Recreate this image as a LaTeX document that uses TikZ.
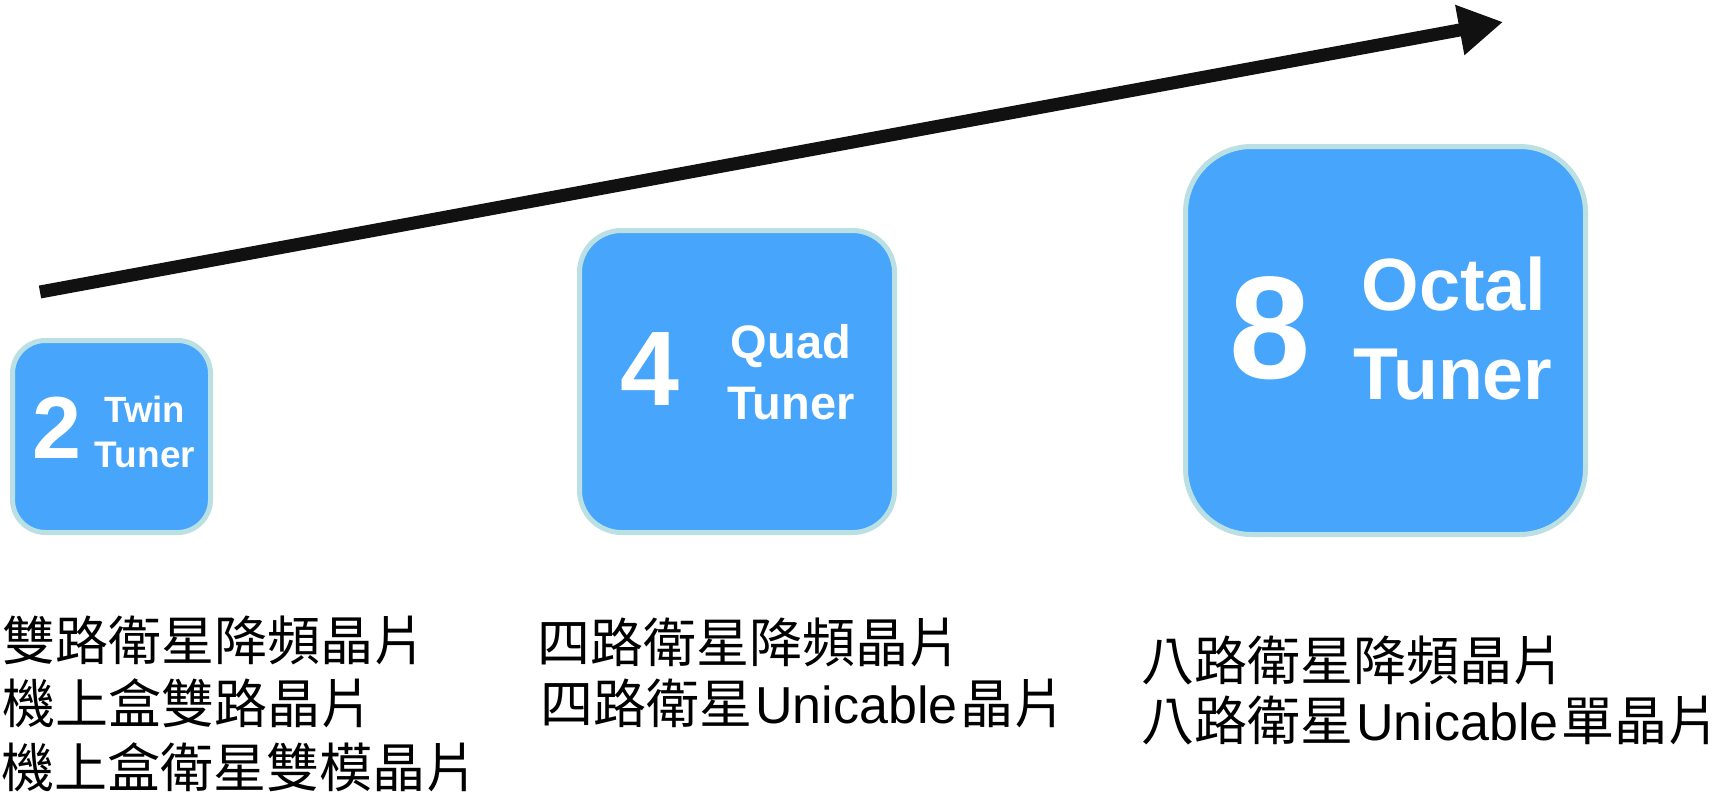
\documentclass[tikz,border=0pt]{standalone}
\usepackage{fontspec}
\setmainfont{Liberation Sans}
\newfontfamily\cjk{Noto Sans CJK TC}
\newfontfamily\arialf{Liberation Sans}
\usetikzlibrary{arrows.meta}
\definecolor{boxfill}{HTML}{47A5FB}
\definecolor{boxedge}{HTML}{BBE0E4}
\definecolor{arrowcol}{HTML}{111111}
\newcommand{\fs}[1]{\fontsize{#1}{#1}\selectfont}
\newcommand{\uni}{\hspace{3pt}{\arialf\fs{52}Unicable}\hspace{3pt}}
\begin{document}
\begin{tikzpicture}[x=1pt,y=-1pt,
  tuner/.style={draw=boxedge, fill=boxfill, line width=5pt, inner sep=0pt, rectangle},
  wt/.style={text=white, inner sep=0pt, anchor=base, text depth=0pt},
  cn/.style={inner sep=0pt, anchor=base west, font=\cjk\fs{53}}]
\useasboundingbox (0,0) rectangle (1729,793);
% growth arrow
\coordinate (as) at (40,292);
\coordinate (ae) at (1503,22);
\draw[arrowcol, line width=13pt, -{Triangle[length=44pt,width=48pt]}] (as) -- (ae);
% boxes
\node[tuner, rounded corners=33pt, minimum width=198pt, minimum height=192pt] (b2) at (111.5,436.5) {};
\node[tuner, rounded corners=42pt, minimum width=315pt, minimum height=302pt] (b4) at (737,381.5) {};
\node[tuner, rounded corners=66pt, minimum width=400pt, minimum height=388pt] (b8) at (1385.5,340.5) {};
% box texts
\node[wt, font=\bfseries\fs{88}] (n2) at (56.5,458) {2};
\node[wt, font=\bfseries\fs{36.5}] (t2a) at (145,422) {Twin};
\node[wt, font=\bfseries\fs{37}] (t2b) at (145,467) {Tuner};
\node[wt, font=\bfseries\fs{106}] (n4) at (650,405) {4};
\node[wt, font=\bfseries\fs{47}] (t4a) at (791,358) {Quad};
\node[wt, font=\bfseries\fs{47}] (t4b) at (791,419) {Tuner};
\node[wt, font=\bfseries\fs{146}] (n8) at (1270.5,378) {8};
\node[wt, font=\bfseries\fs{74}] (t8a) at (1454,310) {Octal};
\node[wt, font=\bfseries\fs{73.5}] (t8b) at (1453,399) {Tuner};
% captions
\node[cn] (l1) at (2,660) {雙路衛星降頻晶片};
\node[cn] (l2) at (2,723) {機上盒雙路晶片};
\node[cn] (l3) at (1,787) {機上盒衛星雙模晶片};
\node[cn] (m1) at (537,662) {四路衛星降頻晶片};
\node[cn] (m2) at (540,723) {四路衛星\uni 晶片};
\node[cn] (r1) at (1141,680) {八路衛星降頻晶片};
\node[cn] (r2) at (1141,740) {八路衛星\uni 單晶片};
\end{tikzpicture}
\end{document}
